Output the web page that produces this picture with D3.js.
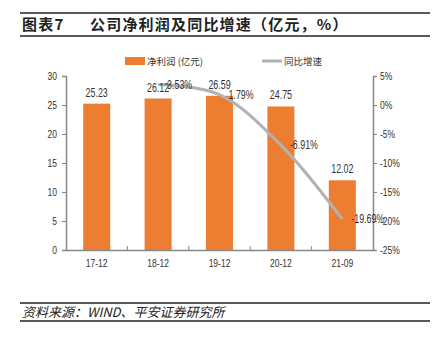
<!DOCTYPE html>
<html><head><meta charset="utf-8">
<script src="https://cdn.jsdelivr.net/npm/d3@7"></script>
<style>
body{margin:0;background:#fff;}
svg{display:block;}
</style></head>
<body>
<svg id="c" width="434" height="350"></svg>
<script>
const categories = ["17-12","18-12","19-12","20-12","21-09"];
const profit = [25.23, 26.12, 26.59, 24.75, 12.02];
const growth = [null, 3.53, 1.79, -6.91, -19.69];
const leftTicks = [0,5,10,15,20,25,30];
const rightTicks = [-25,-20,-15,-10,-5,0,5];
const title1 = "图表7";
const title2 = "公司净利润及同比增速（亿元，%）";
const source = "资料来源：WIND、平安证券研究所";
const legendNames = ["净利润 (亿元)", "同比增速"];

(function(){
const svg = d3.select("#c");
const font = "'Liberation Sans',Arial,sans-serif";
const cjk = "'Noto Sans CJK SC','Liberation Sans',sans-serif";
const pL = 66, pR = 373, pT = 76, pB = 250;
const SX = 0.74;

// horizontally condense texts (narrow font look)
function condense(sel){
  sel.each(function(){
    const t = d3.select(this);
    const tx = +t.attr("x") || 0, ty = +t.attr("y") || 0;
    t.attr("x",0).attr("y",0).attr("transform",`translate(${tx},${ty}) scale(${SX},1)`);
  });
}

const x = d3.scaleBand().domain(categories).range([pL, pR]).paddingInner(0.56).paddingOuter(0.28);
const xc = d => x(d) + x.bandwidth()/2;
const yL = d3.scaleLinear().domain([0,30]).range([pB, pT]);
const yR = d3.scaleLinear().domain([-25,5]).range([pB, pT]);

// title
svg.append("line").attr("x1",20).attr("x2",430).attr("y1",13).attr("y2",13).attr("stroke","#222").attr("stroke-width",1.3);
svg.append("line").attr("x1",20).attr("x2",430).attr("y1",36).attr("y2",36).attr("stroke","#222").attr("stroke-width",1.3);
svg.append("text").attr("x",22).attr("y",30).attr("font-family",cjk).attr("font-weight","bold").attr("font-size",15).attr("letter-spacing",1.2).attr("fill","#222").text(title1);
svg.append("text").attr("x",90).attr("y",30).attr("font-family",cjk).attr("font-weight","bold").attr("font-size",15).attr("letter-spacing",1.2).attr("fill","#222").text(title2);

// source
svg.append("line").attr("x1",20).attr("x2",430).attr("y1",303).attr("y2",303).attr("stroke","#222").attr("stroke-width",1.3);
svg.append("line").attr("x1",20).attr("x2",430).attr("y1",321).attr("y2",321).attr("stroke","#222").attr("stroke-width",1.3);
svg.append("text").attr("x",22).attr("y",317).attr("font-family",cjk).attr("font-style","italic").attr("font-size",13).attr("fill","#222").text(source);

// bars
svg.append("g").selectAll("rect").data(categories).join("rect")
  .attr("x", d => x(d)).attr("width", x.bandwidth())
  .attr("y", (d,i) => yL(profit[i])).attr("height", (d,i) => yL(0) - yL(profit[i]))
  .attr("fill","#ED7D31");

// axes
const gl = svg.append("g").attr("transform",`translate(${pL},0)`)
  .call(d3.axisLeft(yL).tickValues(leftTicks).tickSize(4).tickPadding(5));
const gr = svg.append("g").attr("transform",`translate(${pR},0)`)
  .call(d3.axisRight(yR).tickValues(rightTicks).tickSize(4).tickPadding(3).tickFormat(d => d + "%"));
const gb = svg.append("g").attr("transform",`translate(0,${pB})`)
  .call(d3.axisBottom(x).tickSize(0).tickPadding(9));
[gl,gr,gb].forEach(g => {
  g.select(".domain").attr("stroke","#888").attr("stroke-width",1.5);
  g.selectAll(".tick line").attr("stroke","#888");
  g.selectAll("text").attr("font-family",font).attr("font-size",11.5).attr("fill","#333");
  condense(g.selectAll(".tick text"));
});
// category separator ticks on x axis
svg.append("g").selectAll("line").data(categories.slice(1)).join("line")
  .attr("x1", d => x(d) - x.step()*x.paddingInner()/2).attr("x2", d => x(d) - x.step()*x.paddingInner()/2)
  .attr("y1", pB).attr("y2", pB-4).attr("stroke","#888");

// line
const pts = categories.map((c,i) => ({c, v: growth[i]})).filter(d => d.v !== null);
const line = d3.line().x(d => xc(d.c)).y(d => yR(d.v)).curve(d3.curveCatmullRom.alpha(0.5));
svg.append("path").datum(pts).attr("d", line).attr("fill","none").attr("stroke","#B2B2B2").attr("stroke-width",3);

// bar labels
const bl = svg.append("g").selectAll("text").data(categories).join("text")
  .attr("x", d => xc(d)).attr("y", (d,i) => yL(profit[i]) - 7)
  .attr("text-anchor","middle").attr("font-family",font).attr("font-size",12).attr("fill","#333")
  .text((d,i) => profit[i].toFixed(2));
condense(bl);

// line labels
const ll = svg.append("g").selectAll("text").data(pts).join("text")
  .attr("x", d => xc(d.c) + 9).attr("y", d => yR(d.v) + 4)
  .attr("font-family",font).attr("font-size",12).attr("fill","#333")
  .text(d => d.v.toFixed(2) + "%");
condense(ll);

// legend
svg.append("rect").attr("x",125).attr("y",57).attr("width",20).attr("height",8).attr("fill","#ED7D31");
svg.append("text").attr("x",147).attr("y",65).attr("font-family",cjk).attr("font-size",9.5).attr("fill","#333").text(legendNames[0]);
svg.append("line").attr("x1",262).attr("x2",282).attr("y1",61).attr("y2",61).attr("stroke","#B2B2B2").attr("stroke-width",3);
svg.append("text").attr("x",284).attr("y",65).attr("font-family",cjk).attr("font-size",9.5).attr("fill","#333").text(legendNames[1]);
})();
</script>
</body></html>
